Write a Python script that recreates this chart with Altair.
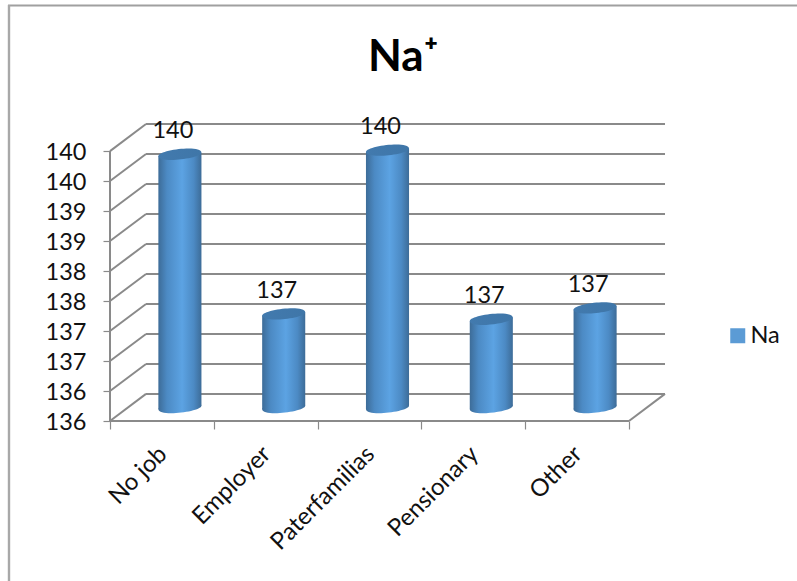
import altair as alt
import pandas as pd

categories = ["No job", "Employer", "Paterfamilias", "Pensionary", "Other"]
values = [139.72, 137.06, 139.79, 136.97, 137.16]
y_ticks = [135.5, 136, 136.5, 137, 137.5, 138, 138.5, 139, 139.5, 140]
x_ticks = [0, 1, 2, 3, 4, 5]

# Depth of the box, in axis units, and the resulting half-depth where the columns stand.
DEPTH_X = 0.347
DEPTH_Y = 0.4515
BAR_W = 0.415
TILT = 0.028
BASE = y_ticks[0]
TOP = y_ticks[-1]

PLOT_L, PLOT_T = 110, 124
PLOT_W, PLOT_H = 555, 297

GRID = "#8a8a8a"
FONT = "Lato"
TEXT_SIZE = 23.5

x_scale = alt.Scale(domain=[0, 5 + DEPTH_X], nice=False, zero=False)
y_scale = alt.Scale(domain=[BASE, TOP + DEPTH_Y], nice=False, zero=False)

# Wire frame of the box: back wall gridlines, side wall diagonals and floor edges.
segments = []
for t in y_ticks:
    segments.append((DEPTH_X, t + DEPTH_Y, 5 + DEPTH_X, t + DEPTH_Y))
    segments.append((0, t, DEPTH_X, t + DEPTH_Y))
segments.append((0, BASE, 0, TOP))
segments.append((0, BASE, 5, BASE))
segments.append((5, BASE, 5 + DEPTH_X, BASE + DEPTH_Y))
frame_df = pd.DataFrame(segments, columns=["x", "y", "x2", "y2"])

frame = alt.Chart(frame_df).mark_rule(color=GRID, strokeWidth=2).encode(
    x=alt.X(
        "x:Q",
        scale=x_scale,
        axis=alt.Axis(
            values=x_ticks, tickCount=len(x_ticks), labels=False, title=None, domain=False, grid=False,
            tickColor=GRID, tickSize=8, tickWidth=1.2,
        ),
    ),
    x2="x2:Q",
    y=alt.Y(
        "y:Q",
        scale=y_scale,
        axis=alt.Axis(
            values=y_ticks, tickCount=len(y_ticks), format=".0f", title=None, domain=False, grid=False,
            tickColor=GRID, tickSize=7, tickWidth=1.2, labelOverlap=False, labelOffset=1,
            labelFont=FONT, labelFontSize=TEXT_SIZE, labelColor="#111111", labelPadding=17,
        ),
    ),
    y2="y2:Q",
)

# Column positions: each one sits halfway into the depth of the box.
bars = pd.DataFrame({"cat": categories, "value": values})
bars["i"] = range(len(categories))
bars["cx"] = bars["i"] + 0.5 + DEPTH_X / 2
bars["base"] = BASE + DEPTH_Y / 2
bars["top"] = bars["value"] + DEPTH_Y / 2

body_rows = []
for _, r in bars.iterrows():
    body_rows.append((r["cat"], r["cx"] - BAR_W / 2, r["top"] - TILT, r["base"] - TILT))
    body_rows.append((r["cat"], r["cx"] + BAR_W / 2, r["top"] + TILT, r["base"] + TILT))
body_df = pd.DataFrame(body_rows, columns=["cat", "x", "y", "y2"])

body_fill = alt.LinearGradient(
    gradient="linear",
    x1=0, x2=1, y1=0, y2=0,
    stops=[
        alt.GradientStop(offset=0, color="#3d6c98"),
        alt.GradientStop(offset=0.2, color="#4c8ac4"),
        alt.GradientStop(offset=0.55, color="#5ca3e3"),
        alt.GradientStop(offset=0.82, color="#4c8ac4"),
        alt.GradientStop(offset=1, color="#3d6c98"),
    ],
)
lid_fill = alt.LinearGradient(
    gradient="linear",
    x1=0, x2=1, y1=0, y2=0,
    stops=[
        alt.GradientStop(offset=0, color="#427aae"),
        alt.GradientStop(offset=1, color="#3f76a8"),
    ],
)

# Tilted ellipse in the unit box, scaled by the point size.
ELLIPSE = "M-1,.08 C-1,-.2 1,-.45 1,-.08 C1,.2 -1,.45 -1,.08Z"
CAP_SIZE = 1849

bottom_caps = alt.Chart(bars).mark_point(
    shape=ELLIPSE, size=CAP_SIZE, filled=True, opacity=1, color=body_fill, strokeWidth=0
).encode(
    x=alt.X("cx:Q", scale=x_scale), y=alt.Y("base:Q", scale=y_scale)
)

bodies = alt.Chart(body_df).mark_area(color=body_fill, line=False, opacity=1).encode(
    x=alt.X("x:Q", scale=x_scale),
    y=alt.Y("y:Q", scale=y_scale),
    y2="y2:Q",
    detail="cat:N",
)

top_caps = alt.Chart(bars).mark_point(
    shape=ELLIPSE, size=CAP_SIZE, filled=True, opacity=1, color=lid_fill, strokeWidth=0
).encode(
    x=alt.X("cx:Q", scale=x_scale), y=alt.Y("top:Q", scale=y_scale)
)

value_labels = alt.Chart(bars).mark_text(
    font=FONT, fontSize=TEXT_SIZE, color="#111111", dx=-7, dy=-23
).encode(
    x=alt.X("cx:Q", scale=x_scale),
    y=alt.Y("top:Q", scale=y_scale),
    text=alt.Text("value:Q", format=".0f"),
)

cat_df = pd.DataFrame({"cat": categories, "x": [i + 0.5 for i in range(len(categories))], "y": BASE})
cat_labels = alt.Chart(cat_df).mark_text(
    font=FONT, fontSize=24, color="#111111", angle=315, align="right", baseline="middle", dx=-20, dy=22
).encode(
    x=alt.X("x:Q", scale=x_scale),
    y=alt.Y("y:Q", scale=y_scale),
    text="cat:N",
)

# Series key, carried by an empty layer so it does not add to the drawing.
key = alt.Chart(pd.DataFrame({"series": ["Na"], "x": [0], "y": [BASE]})).mark_square(size=0).encode(
    x=alt.X("x:Q", scale=x_scale),
    y=alt.Y("y:Q", scale=y_scale),
    color=alt.Color(
        "series:N",
        scale=alt.Scale(domain=["Na"], range=["#5b9bd5"]),
        legend=alt.Legend(
            title=None, orient="none", legendX=616, legendY=200,
            symbolType="square", symbolSize=225, symbolOpacity=1, symbolStrokeWidth=0,
            labelFont=FONT, labelFontSize=TEXT_SIZE, labelColor="#111111", labelOffset=1,
        ),
    ),
)

# Outer border of the chart area, open at the right and the bottom.
border_top = alt.Chart(pd.DataFrame({"a": [0]})).mark_rule(color="#a0a0a0", strokeWidth=2).encode(
    x=alt.value(8 - PLOT_L), x2=alt.value(797 - PLOT_L), y=alt.value(5.5 - PLOT_T)
)
border_left = alt.Chart(pd.DataFrame({"a": [0]})).mark_rule(color="#a8a8a8", strokeWidth=2.4).encode(
    x=alt.value(9 - PLOT_L), y=alt.value(5 - PLOT_T), y2=alt.value(581 - PLOT_T)
)

chart = (
    alt.layer(frame, bottom_caps, bodies, top_caps, value_labels, cat_labels, key, border_top, border_left)
    .properties(
        width=PLOT_W,
        height=PLOT_H,
        padding={"left": PLOT_L, "top": PLOT_T, "right": 797 - PLOT_L - PLOT_W, "bottom": 581 - PLOT_T - PLOT_H},
        autosize=alt.AutoSizeParams(type="none"),
        title=alt.TitleParams(
            "Na\u207a", font=FONT, fontSize=44, fontWeight="bold", color="#000000",
            anchor="start", dx=258, offset=0, dy=76, frame="group",
        ),
    )
    .configure_view(stroke=None)
)

chart.save("out.html", embed_options={"renderer": "svg", "actions": False})
